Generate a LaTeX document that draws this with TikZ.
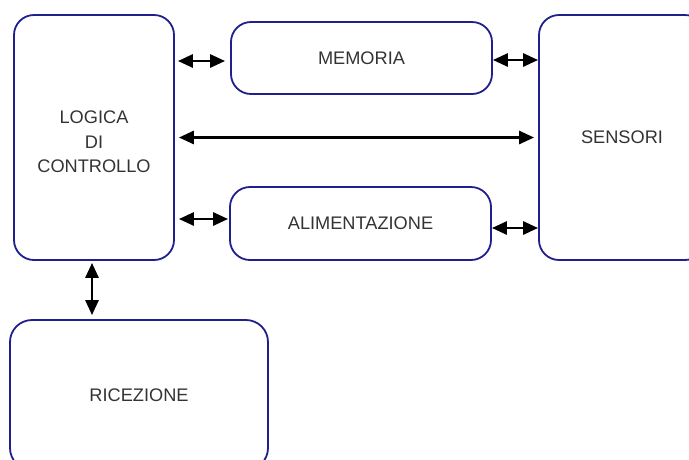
\documentclass[tikz,border=0pt]{standalone}
\usepackage{fontspec}
\setmainfont{Liberation Sans}
\usetikzlibrary{arrows.meta}
\definecolor{boxline}{RGB}{32,32,140}
\definecolor{boxtext}{RGB}{51,51,51}
\begin{document}
\begin{tikzpicture}[x=1pt,y=-1pt,
  block/.style={draw=boxline, line width=1.8pt, rounded corners=20pt,
    inner sep=0pt, text=boxtext, align=center,
    font=\fontsize{18.2}{24.5}\selectfont},
  link/.style={line width=2.8pt, black,
    {Triangle[length=15pt,width=13pt]}-{Triangle[length=15pt,width=13pt]}}]
  \useasboundingbox (0,0) rectangle (689,459);

  % functional blocks (the strut pushes the three-line label a little lower)
  \node[block, minimum width=160pt, minimum height=245pt] (logica) at (94,137.5)
    {\begin{tabular}{@{}c@{}}\rule{0pt}{29pt}LOGICA\\DI\\CONTROLLO\end{tabular}};
  \node[block, minimum width=261pt, minimum height=72pt] (memoria) at (361.5,58)
    {MEMORIA};
  \node[block, minimum width=166pt, minimum height=245pt] (sensori) at (622,137.5)
    {SENSORI};
  \node[block, minimum width=261pt, minimum height=73pt] (alim) at (360.5,223.5)
    {ALIMENTAZIONE};
  \node[block, minimum width=258pt, minimum height=150pt, rounded corners=22pt] (ricezione) at (139,395)
    {RICEZIONE};

  % bidirectional links
  \draw[link] ([xshift=3pt,yshift=-3pt]logica.east |- memoria.west)
    -- ([xshift=-5pt,yshift=-3pt]memoria.west);
  \draw[link] ([yshift=-2pt]memoria.east)
    -- ([yshift=-2pt]memoria.east -| sensori.west);
  \draw[link] ([xshift=4pt]logica.east) -- ([xshift=-4pt]sensori.west);
  \draw[link] ([xshift=4pt,yshift=4.5pt]logica.east |- alim.west)
    -- ([xshift=-1pt,yshift=4.5pt]alim.west);
  \draw[link] ([yshift=-4.5pt]alim.east)
    -- ([yshift=-4.5pt]alim.east -| sensori.west);
  \draw[link] ([xshift=-2pt,yshift=-2pt]logica.south)
    -- ([xshift=-2pt,yshift=4pt]logica.south |- ricezione.north);
\end{tikzpicture}
\end{document}
